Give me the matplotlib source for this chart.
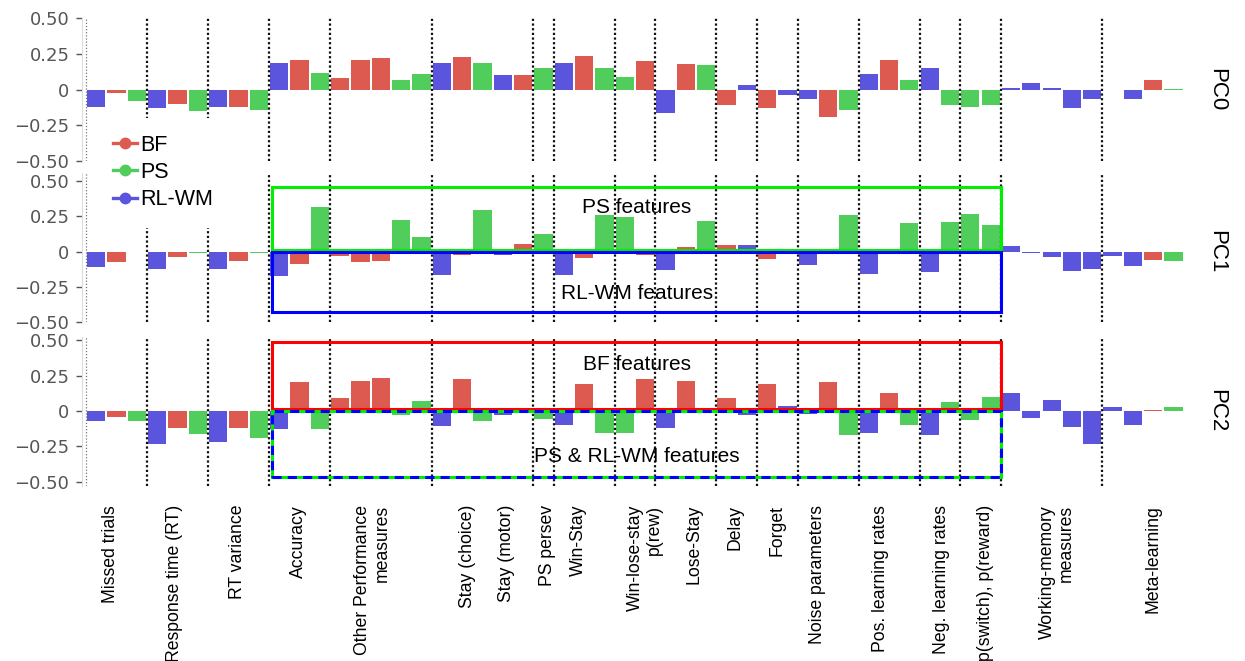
import matplotlib
matplotlib.use('Agg')
import matplotlib.pyplot as plt
from matplotlib.lines import Line2D
from matplotlib.patches import Rectangle
import matplotlib.transforms as mtrans

# ---------------- data ----------------
model_names = ['BF', 'PS', 'RL-WM']
model_colors = {'BF': '#DC5A50', 'PS': '#50CD5A', 'RL-WM': '#5A55DC'}

feature_models = [
    'RL-WM', 'BF', 'PS',            # Missed trials
    'RL-WM', 'BF', 'PS',            # Response time
    'RL-WM', 'BF', 'PS',            # RT variance
    'RL-WM', 'BF', 'PS',            # Accuracy
    'BF', 'BF', 'BF', 'PS', 'PS',   # Other performance measures
    'RL-WM', 'BF', 'PS',            # Stay (choice)
    'RL-WM', 'BF',                  # Stay (motor)
    'PS',                           # PS persev
    'RL-WM', 'BF', 'PS',            # Win-Stay
    'PS', 'BF', 'RL-WM',            # Win-lose-stay, p(rew)
    'BF', 'PS',                     # Lose-Stay
    'BF', 'RL-WM',                  # Delay
    'BF', 'RL-WM',                  # Forget
    'RL-WM', 'BF', 'PS',            # Noise parameters
    'RL-WM', 'BF', 'PS',            # Pos. learning rates
    'RL-WM', 'PS',                  # Neg. learning rates
    'PS', 'PS',                     # p(switch), p(reward)
    'RL-WM', 'RL-WM', 'RL-WM', 'RL-WM', 'RL-WM', 'RL-WM',  # Working memory
    'RL-WM', 'BF', 'PS',            # Meta-learning
]

pc0 = [-0.12, -0.02, -0.08, -0.13, -0.10, -0.15, -0.12, -0.12, -0.14,
       0.19, 0.21, 0.12, 0.08, 0.21, 0.22, 0.07, 0.11,
       0.19, 0.23, 0.19, 0.10, 0.10, 0.15, 0.19, 0.235, 0.15, 0.09, 0.20,
       -0.165, 0.18, 0.17, -0.11, 0.03, -0.13, -0.04, -0.065, -0.19, -0.14,
       0.11, 0.21, 0.07, 0.15, -0.11, -0.12, -0.11,
       0.01, 0.045, 0.01, -0.13, -0.065, 0.0, -0.065, 0.07, 0.005]

pc1 = [-0.11, -0.07, 0.0, -0.12, -0.04, -0.006, -0.12, -0.064, -0.006,
       -0.175, -0.087, 0.317, -0.03, -0.076, -0.064, 0.227, 0.104,
       -0.163, -0.02, 0.293, -0.02, 0.057, 0.123, -0.163, -0.043, 0.262, 0.246, -0.02,
       -0.132, 0.035, 0.215, 0.047, 0.047, -0.054, -0.015, -0.097, 0.0, 0.26,
       -0.158, 0.0, 0.203, -0.147, 0.213, 0.27, 0.19,
       0.043, -0.01, -0.04, -0.135, -0.123, -0.03, -0.10, -0.057, -0.066]

pc2 = [-0.07, -0.04, -0.073, -0.23, -0.118, -0.165, -0.22, -0.12, -0.188,
       -0.13, 0.202, -0.13, 0.089, 0.214, 0.235, -0.03, 0.068,
       -0.108, 0.224, -0.073, -0.03, 0.0, -0.06, -0.096, 0.19, -0.153, -0.153, 0.224,
       -0.12, 0.21, 0.0, 0.089, -0.03, 0.19, 0.033, -0.018, 0.207, -0.17,
       -0.158, 0.13, -0.10, -0.17, 0.064, -0.066, 0.096,
       0.13, -0.047, 0.075, -0.113, -0.235, 0.028, -0.10, 0.005, 0.028]

components = ['PC0', 'PC1', 'PC2']
loadings = [pc0, pc1, pc2]

group_labels = ['Missed trials', 'Response time (RT)', 'RT variance', 'Accuracy',
                'Other Performance\nmeasures', 'Stay (choice)', 'Stay (motor)',
                'PS persev', 'Win-Stay', 'Win-lose-stay\np(rew)', 'Lose-Stay',
                'Delay', 'Forget', 'Noise parameters', 'Pos. learning rates',
                'Neg. learning rates', 'p(switch), p(reward)',
                'Working-memory\nmeasures', 'Meta-learning']
separators = [0, 3, 6, 9, 12, 17, 22, 23, 26, 28, 31, 33, 35, 38, 41, 43, 45, 50]

# ---------------- layout ----------------
label_pos = [0.68, 3.86, 6.93, 9.96, 13.57, 18.27, 20.2, 22.22, 23.7, 27.0,
             29.4, 31.4, 33.5, 35.5, 38.6, 41.6, 43.77, 47.26, 51.98]
W, H = 1245, 661
axes_px = [(18.3, 161.0, (-0.5, 0.5)),
           (172.7, 322.2, (-0.5, 0.56)),
           (337.3, 486.1, (-0.53, 0.52))]
left_px, right_px = 82, 1185
xlim = (-0.7, 53.56)

sans = 'Liberation Sans'
fig = plt.figure(figsize=(W / 100, H / 100), dpi=100)
fig.patch.set_facecolor('white')

xs = list(range(len(feature_models)))
colors = [model_colors[m] for m in feature_models]

axes = []
for k, (top, bot, ylim) in enumerate(axes_px):
    ax = fig.add_axes([left_px / W, 1 - bot / H, (right_px - left_px) / W, (bot - top) / H])
    ax.set_xlim(*xlim)
    ax.set_ylim(*ylim)
    ax.bar(xs, loadings[k], width=0.9, color=colors, linewidth=0, zorder=2)
    for b in separators:
        if b == 0:
            ax.axvline(b - 0.5, color='#777777', lw=0.9, ls=(0, (1, 1.5)), zorder=3)
        else:
            ax.axvline(b - 0.5, color='#111111', lw=1.6, ls=(0, (1, 1.1)), zorder=3)
    for s in ['top', 'right', 'bottom']:
        ax.spines[s].set_visible(False)
    ax.spines['left'].set_color('#dddddd')
    ax.spines['left'].set_linewidth(0.8)
    ax.set_yticks([-0.5, -0.25, 0, 0.25, 0.5])
    ax.set_yticklabels(['\u22120.50', '\u22120.25', '0', '0.25', '0.50'])
    ax.tick_params(axis='y', labelsize=13, colors='#555555', length=4, width=1, pad=5)
    ax.tick_params(axis='x', length=0)
    ax.set_xticks([])
    tr = mtrans.blended_transform_factory(fig.transFigure, ax.transData)
    ax.text(1217 / W, 0, components[k], transform=tr, rotation=270, ha='center',
            va='center', fontsize=16, family=sans, color='black')
    axes.append(ax)

ax0, ax1, ax2 = axes
ax2.set_xticks(label_pos)
ax2.set_xticklabels(group_labels, rotation=90, fontsize=12.7, family=sans,
                    va='top', ha='center', multialignment='right', color='black')
ax2.tick_params(axis='x', pad=13.5, length=0, colors='black')

# feature boxes
bx0, bx1 = 8.67, 44.53
ax1.add_patch(Rectangle((bx0, 0.012), bx1 - bx0, 0.457 - 0.012, fill=False,
                        edgecolor='#00EE00', lw=2.2, zorder=4))
ax1.add_patch(Rectangle((bx0, -0.428), bx1 - bx0, 0.428, fill=False,
                        edgecolor='#0000FF', lw=2.2, zorder=4))
ax2.add_patch(Rectangle((bx0, 0.014), bx1 - bx0, 0.489 - 0.014, fill=False,
                        edgecolor='#FF0000', lw=2.2, zorder=4))
ax2.add_patch(Rectangle((bx0, -0.466), bx1 - bx0, 0.466 + 0.002, fill=False,
                        edgecolor='#00EE00', lw=2.2, zorder=4))
ax2.add_patch(Rectangle((bx0, -0.466), bx1 - bx0, 0.466 + 0.002, fill=False,
                        edgecolor='#0000FF', lw=2.2, ls=(0, (3, 2)), zorder=4))
cx = (bx0 + bx1) / 2
ax1.text(cx, 0.313, 'PS features', ha='center', va='center', fontsize=15, family=sans, zorder=5)
ax1.text(cx, -0.30, 'RL-WM features', ha='center', va='center', fontsize=15, family=sans, zorder=5)
ax2.text(cx, 0.33, 'BF features', ha='center', va='center', fontsize=15, family=sans, zorder=5)
ax2.text(cx, -0.32, 'PS & RL-WM features', ha='center', va='center', fontsize=15, family=sans, zorder=5)

# legend with white backing
fig.add_artist(Rectangle((90 / W, 1 - 228 / H), 150 / W, 110 / H, transform=fig.transFigure,
                         facecolor='white', edgecolor='none', zorder=4))
handles = [Line2D([0], [0], color=model_colors[m], lw=2.4, marker='o', markersize=7.5)
           for m in model_names]
fig.legend(handles, model_names, loc='upper left', bbox_to_anchor=(113 / W, 1 - 135 / H),
           bbox_transform=fig.transFigure, frameon=False, prop={'family': sans, 'size': 15.5},
           handlelength=1.1, handletextpad=0.15, labelspacing=0.28, borderpad=0,
           borderaxespad=0)

fig.savefig('out.png', dpi=100, facecolor='white')
